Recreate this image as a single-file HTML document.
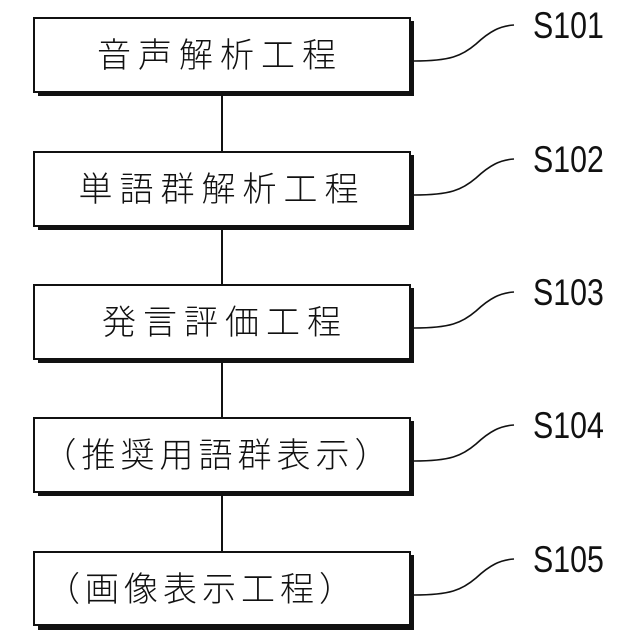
<!DOCTYPE html>
<html><head><meta charset="utf-8"><style>
html,body{margin:0;padding:0;background:#fff;width:640px;height:640px;overflow:hidden}
svg text.j{font-family:"Liberation Sans","Noto Sans CJK JP",sans-serif;font-size:34px;font-weight:300;fill:#111}
svg text.s{font-family:"Liberation Sans",sans-serif;font-size:37px;fill:#111}
</style></head><body>
<svg width="640" height="640" viewBox="0 0 640 640" xmlns="http://www.w3.org/2000/svg">
<g stroke="#111" stroke-width="2" fill="none">
<line x1="222" y1="96" x2="222" y2="152"/>
<line x1="222" y1="230" x2="222" y2="285"/>
<line x1="222" y1="363" x2="222" y2="418"/>
<line x1="222" y1="496" x2="222" y2="552"/>
</g>
<g id="boxes">
<rect x="38" y="21" width="376" height="75" fill="#111"/><rect x="34" y="18" width="376" height="74" fill="#fff" stroke="#111" stroke-width="2"/>
<rect x="38" y="155" width="376" height="75" fill="#111"/><rect x="34" y="152" width="376" height="74" fill="#fff" stroke="#111" stroke-width="2"/>
<rect x="38" y="288" width="376" height="75" fill="#111"/><rect x="34" y="285" width="376" height="74" fill="#fff" stroke="#111" stroke-width="2"/>
<rect x="38" y="421" width="376" height="75" fill="#111"/><rect x="34" y="418" width="376" height="74" fill="#fff" stroke="#111" stroke-width="2"/>
<rect x="38" y="555" width="376" height="75" fill="#111"/><rect x="34" y="552" width="376" height="73" fill="#fff" stroke="#111" stroke-width="2"/>
</g>
<g stroke="#111" stroke-width="1.6" fill="none">
<path d="M414,61 C450,61 462,56 476,44 C490,31 500,26 514,25"/>
<path d="M414,195 C450,195 462,190 476,178 C490,165 500,160 514,159"/>
<path d="M414,328 C450,328 462,323 476,311 C490,298 500,293 514,292"/>
<path d="M414,461 C450,461 462,456 476,444 C490,431 500,426 514,425"/>
<path d="M414,595 C450,595 462,590 476,578 C490,565 500,560 514,559"/>
</g>
<text class="j" x="220" y="67" text-anchor="middle" letter-spacing="7">音声解析工程</text>
<text class="j" x="222" y="201" text-anchor="middle" letter-spacing="7">単語群解析工程</text>
<text class="j" x="225" y="334" text-anchor="middle" letter-spacing="7">発言評価工程</text>
<text class="j" x="218" y="467" text-anchor="middle" letter-spacing="5">（推奨用語群表示）</text>
<text class="j" x="202" y="601" text-anchor="middle" letter-spacing="5">（画像表示工程）</text>
<g transform="scale(0.82,1)">
<text class="s" x="650" y="38">S101</text>
<text class="s" x="650" y="172">S102</text>
<text class="s" x="650" y="305">S103</text>
<text class="s" x="650" y="438">S104</text>
<text class="s" x="650" y="572">S105</text>
</g>
</svg>
</body></html>
